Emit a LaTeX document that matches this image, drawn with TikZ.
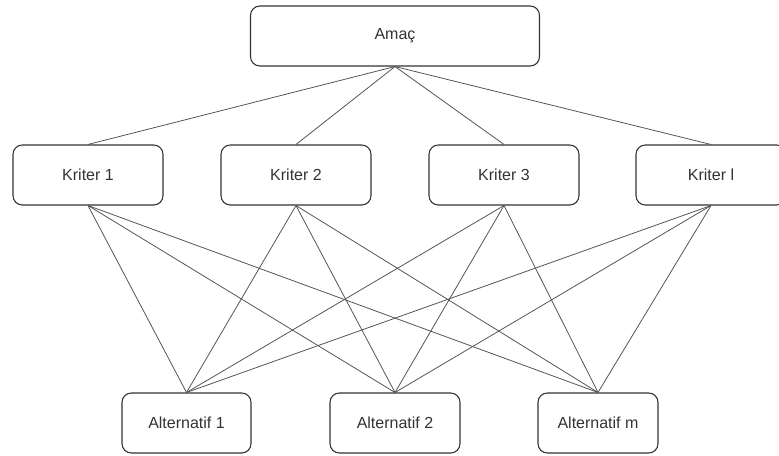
\documentclass[tikz,border=0pt]{standalone}
\usepackage{fontspec}
\setmainfont{Liberation Sans}
\definecolor{boxline}{HTML}{333333}
\definecolor{edgeline}{HTML}{555555}
\definecolor{labeltext}{HTML}{333333}
\tikzset{
  kutu/.style={draw=boxline, line width=0.8pt, rounded corners=7pt, fill=white,
    minimum height=45pt, text=labeltext, font=\fontsize{12pt}{14pt}\selectfont},
  bag/.style={draw=edgeline, line width=0.6pt}
}
\begin{document}
\begin{tikzpicture}[x=0.75pt, y=-0.75pt]

\useasboundingbox (0,0) rectangle (779,455);

% amac
\node[kutu, minimum width=216.75pt] (amac) at (395,36) {Amaç};

% kriterler
\node[kutu, minimum width=112.5pt] (k1) at (88,175) {Kriter 1};
\node[kutu, minimum width=112.5pt] (k2) at (296,175) {Kriter 2};
\node[kutu, minimum width=112.5pt] (k3) at (504,175) {Kriter 3};
\node[kutu, minimum width=112.5pt] (k4) at (711,175) {Kriter l};

% alternatifler
\node[kutu, minimum width=96.75pt] (a1) at (186.5,423) {Alternatif 1};
\node[kutu, minimum width=97.5pt] (a2) at (395,423) {Alternatif 2};
\node[kutu, minimum width=90pt] (a3) at (598,423) {Alternatif m};

\foreach \k in {k1,k2,k3,k4}
  \draw[bag] (amac.south) -- (\k.north);

\foreach \k in {k1,k2,k3,k4}
  \foreach \a in {a1,a2,a3}
    \draw[bag] (\k.south) -- (\a.north);

\end{tikzpicture}
\end{document}
